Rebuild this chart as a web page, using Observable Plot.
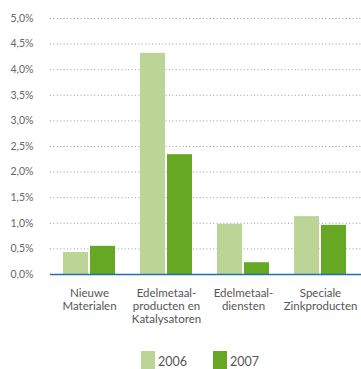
<!DOCTYPE html>
<html><head><meta charset="utf-8">
<script src="https://cdn.jsdelivr.net/npm/d3@7"></script>
<script src="https://cdn.jsdelivr.net/npm/@observablehq/plot@0.6"></script>
<style>
body{margin:0;background:#fff;font-family:Lato,"Noto Sans",sans-serif;overflow:hidden;}
#chart svg{display:block;}
.legend{display:flex;padding-left:141px;margin-top:6px;height:18px;}
.item{display:flex;align-items:flex-end;margin-right:26px;}
.sw{width:14px;height:18px;margin-right:3px;}
.lab{font-size:12.5px;color:#555;line-height:12px;position:relative;top:-1px;}
</style></head><body><div id="chart"></div><script>
const categories = ["Nieuwe\nMaterialen", "Edelmetaal-\nproducten en\nKatalysatoren", "Edelmetaal-\ndiensten", "Speciale\nZinkproducten"];
const years = ["2006", "2007"];
const values2006 = [0.43, 4.32, 0.98, 1.13];
const values2007 = [0.55, 2.34, 0.23, 0.96];
const yTicks = [0, 0.5, 1, 1.5, 2, 2.5, 3, 3.5, 4, 4.5, 5];
const colors = ["#bcd596", "#66a823"];

const d2006 = categories.map((c, i) => ({cat: c, year: years[0], value: values2006[i]}));
const d2007 = categories.map((c, i) => ({cat: c, year: years[1], value: values2007[i]}));
const fmt = v => d3.format(".1f")(v).replace(".", ",") + "%";

const chart = Plot.plot({
  width: 361, height: 345,
  marginLeft: 50, marginRight: 0, marginTop: 18, marginBottom: 71,
  style: {fontFamily: "Lato, 'Noto Sans', sans-serif", fontSize: "11px", color: "#555"},
  x: {domain: categories, range: [50, 358], paddingInner: 0.325, paddingOuter: 0.1625, label: null},
  y: {domain: [0, 5], label: null},
  color: {domain: years, range: colors},
  marks: [
    Plot.gridY(yTicks.filter(d => d > 0), {stroke: "#9a9a9a", strokeOpacity: 1, strokeDasharray: "1,2.4", strokeWidth: 1}),
    Plot.barY(d2006, {x: "cat", y: "value", fill: "year", insetRight: 27}),
    Plot.barY(d2007, {x: "cat", y: "value", fill: "year", insetLeft: 27}),
    Plot.ruleY([0], {stroke: "#1f6fb0", strokeWidth: 1.5}),
    Plot.axisY(yTicks, {tickFormat: fmt, tickSize: 0, tickPadding: 17, label: null, fill: "#666", fontSize: 10.5}),
    Plot.axisX({tickSize: 0, tickPadding: 13, label: null, fill: "#555", fontSize: 11.5, lineHeight: 1.13})
  ]
});
document.getElementById("chart").appendChild(chart);

const leg = document.createElement("div");
leg.className = "legend";
years.forEach((y, i) => {
  const it = document.createElement("div"); it.className = "item";
  const sw = document.createElement("div"); sw.className = "sw"; sw.style.background = colors[i];
  const lb = document.createElement("span"); lb.className = "lab"; lb.textContent = y;
  it.appendChild(sw); it.appendChild(lb); leg.appendChild(it);
});
document.body.appendChild(leg);
</script></body></html>
